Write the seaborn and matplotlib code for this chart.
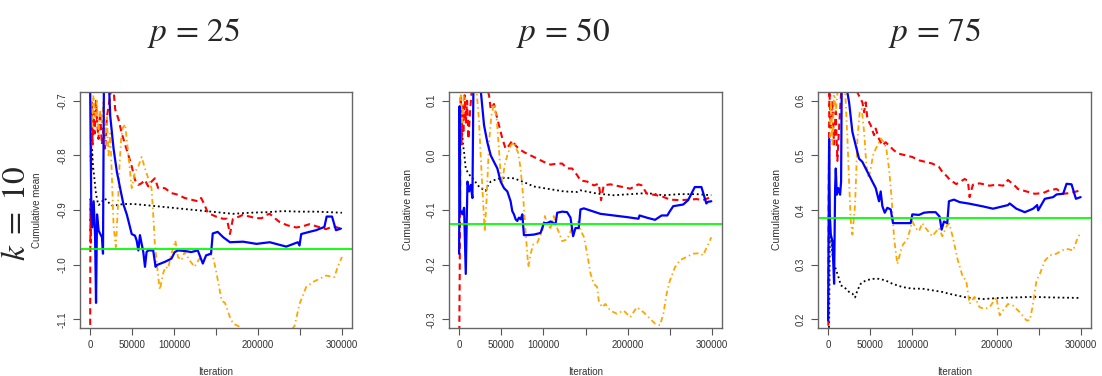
import matplotlib
matplotlib.use("Agg")
import matplotlib.pyplot as plt
import seaborn as sns

# ---------------- data ----------------
panel_titles = [r"$p\,=\,25$", r"$p\,=\,50$", r"$p\,=\,75$"]
row_label = r"$k\;=\;10$"
x_label = "Iteration"
y_label = "Cumulative mean"
x_ticks = [0, 50000, 100000, 150000, 200000, 250000, 300000]
x_tick_labels = ["0", "50000", "100000", "", "200000", "", "300000"]
y_ticks = [[-0.7, -0.8, -0.9, -1.0, -1.1], [0.1, 0.0, -0.1, -0.2, -0.3], [0.6, 0.5, 0.4, 0.3, 0.2]]
y_tick_labels = [["-0.7", "-0.8", "-0.9", "-1.0", "-1.1"],
                 ["0.1", "0.0", "-0.1", "-0.2", "-0.3"],
                 ["0.6", "0.5", "0.4", "0.3", "0.2"]]
y_limits = [(-1.116, -0.684), (-0.316, 0.116), (0.184, 0.616)]
true_values = [-0.971, -0.125, 0.386]

# p = 25
p25_black_x = [500, 1500, 2500, 3500, 5000, 7000, 9000, 10300, 14000, 17000, 20000, 24000, 28000, 32000,
               40000, 52000, 72000, 92000, 111000, 131000, 151000, 170000, 190000, 210000, 230000, 250000,
               270000, 300000]
p25_black_y = [-0.80, -0.83, -0.79, -0.82, -0.84, -0.87, -0.885, -0.891, -0.885, -0.879, -0.882, -0.89,
               -0.893, -0.891, -0.889, -0.889, -0.892, -0.895, -0.898, -0.901, -0.904, -0.907, -0.905,
               -0.904, -0.902, -0.903, -0.903, -0.905]
p25_red_x = [0, 200, 500, 900, 1400, 2000, 3000, 4000, 5500, 7000, 8500, 10000, 12000, 14000, 16000, 18000,
             20000, 22000, 24000, 26000, 28000, 29900, 33900, 37800, 41700, 45700, 49600, 53500, 57500, 61400,
             65400, 69300, 73200, 77200, 81100, 89000, 96900, 104700, 112600, 120500, 128300, 132300, 136200,
             140200, 144100, 150000, 158000, 163000, 166600, 170000, 176000, 182000, 190000, 198000, 204500,
             210000, 214000, 220000, 225800, 235000, 245500, 253000, 261300, 270000, 281000, 290000, 299000]
p25_red_y = [-1.30, -1.03, -0.88, -0.96, -0.74, -0.70, -0.78, -0.72, -0.76, -0.70, -0.74, -0.77, -0.72,
             -0.78, -0.75, -0.79, -0.73, -0.71, -0.69, -0.67, -0.68, -0.716, -0.734, -0.76, -0.78, -0.80,
             -0.82, -0.845, -0.854, -0.851, -0.845, -0.857, -0.848, -0.842, -0.86, -0.86, -0.869, -0.872,
             -0.878, -0.881, -0.884, -0.878, -0.89, -0.905, -0.908, -0.912, -0.916, -0.916, -0.944, -0.917,
             -0.913, -0.909, -0.912, -0.915, -0.915, -0.909, -0.907, -0.915, -0.922, -0.928, -0.932, -0.93,
             -0.926, -0.93, -0.935, -0.93, -0.934]
p25_orange_x = [500, 1500, 2500, 4000, 6000, 8000, 10000, 12000, 14000, 16000, 18000, 20000, 22000, 24000,
                26000, 28000, 30700, 33000, 35000, 37000, 39000, 41700, 45700, 49600, 53500, 57500, 61400,
                65400, 69300, 73200, 75200, 77200, 81100, 83100, 87000, 89800, 92900, 96900, 101600, 104700,
                108700, 112600, 118500, 124400, 130300, 136200, 142100, 146100, 150800, 156700, 160700,
                166600, 170500, 178400, 185000, 200000, 220000, 240000, 243600, 249500, 257400, 265200,
                273200, 281100, 290900, 294800, 300000]
p25_orange_y = [-0.78, -0.70, -0.75, -0.69, -0.73, -0.70, -0.76, -0.72, -0.74, -0.70, -0.78, -0.73, -0.80,
                -0.76, -0.84, -0.93, -0.968, -0.90, -0.82, -0.77, -0.75, -0.743, -0.80, -0.86, -0.83, -0.82,
                -0.803, -0.824, -0.842, -0.86, -0.908, -0.962, -1.022, -1.046, -1.016, -1.004, -1.007, -0.98,
                -0.956, -0.986, -0.992, -0.977, -0.992, -1.004, -0.989, -0.989, -0.98, -0.983, -1.017, -1.066,
                -1.07, -1.096, -1.108, -1.114, -1.14, -1.16, -1.15, -1.12, -1.112, -1.072, -1.041, -1.032,
                -1.026, -1.02, -1.023, -1.005, -0.986]
p25_blue_x = [0, 800, 1500, 2400, 4300, 6000, 7100, 8300, 10200, 12200, 14200, 15400, 16000, 16500, 18000,
              20100, 22500, 24000, 28000, 31900, 35800, 39800, 43700, 45700, 49600, 53500, 55500, 57500, 59400,
              63400, 65400, 67300, 69300, 75200, 78000, 79100, 89000, 96900, 100800, 104700, 112600, 120500,
              128300, 134300, 138200, 144100, 146100, 152000, 158700, 166600, 182300, 198200, 214000, 233700,
              247500, 249500, 251500, 261300, 269200, 279100, 281800, 288200, 292900, 298800]
p25_blue_y = [-0.66, -0.80, -0.90, -0.932, -0.884, -0.95, -1.070, -0.908, -0.938, -0.944, -0.950, -0.98,
              -0.80, -0.66, -0.66, -0.67, -0.67, -0.728, -0.788, -0.830, -0.860, -0.890, -0.908, -0.920,
              -0.944, -0.947, -0.956, -0.974, -0.946, -0.977, -1.004, -0.977, -0.974, -0.974, -1.004, -1.001,
              -0.995, -0.989, -0.977, -0.974, -0.975, -0.977, -0.974, -0.998, -0.983, -0.980, -0.943, -0.94,
              -0.950, -0.959, -0.958, -0.962, -0.959, -0.967, -0.959, -0.965, -0.944, -0.940, -0.937, -0.931,
              -0.912, -0.912, -0.937, -0.934]

# p = 50
p50_black_x = [500, 1000, 2000, 3200, 4700, 5900, 7900, 9900, 13800, 17800, 21700, 25600, 29600, 31600,
               33500, 37500, 45400, 53300, 65100, 76900, 88800, 100600, 112400, 124300, 140000, 144100,
               163800, 183400, 203100, 222700, 242400, 262000, 281700, 299300]
p50_black_y = [0.0, 0.043, 0.03, 0.05, 0.018, 0.006, -0.024, -0.03, -0.039, -0.045, -0.054, -0.06, -0.063,
               -0.065, -0.057, -0.048, -0.043, -0.041, -0.042, -0.049, -0.057, -0.06, -0.063, -0.066,
               -0.067, -0.064, -0.070, -0.073, -0.071, -0.069, -0.073, -0.071, -0.071, -0.073]
p50_red_x = [0, 300, 700, 1000, 1500, 2000, 3000, 4000, 5000, 6500, 8000, 9500, 11000, 13000, 15000, 17000,
             20000, 24000, 28000, 32000, 35500, 37500, 41400, 43400, 47300, 51300, 55200, 59200, 63100, 67100,
             71000, 76900, 84800, 92700, 100600, 108500, 116400, 122300, 128200, 134100, 140000, 144100,
             152000, 159800, 165700, 168500, 171600, 179500, 191300, 203100, 212900, 216800, 222700, 234500,
             242400, 250200, 262000, 273800, 281700, 289500, 299300]
p50_red_y = [-0.40, -0.31, -0.22, -0.12, 0.05, 0.11, 0.02, 0.09, 0.04, 0.11, 0.06, 0.10, 0.03, 0.08, 0.12,
             0.12, 0.13, 0.13, 0.13, 0.13, 0.11, 0.085, 0.094, 0.079, 0.055, 0.031, 0.012, 0.018, 0.027,
             0.018, 0.012, 0.006, 0.0, -0.006, -0.012, -0.017, -0.015, -0.015, -0.024, -0.024, -0.036,
             -0.046, -0.048, -0.055, -0.052, -0.082, -0.055, -0.053, -0.057, -0.061, -0.053, -0.055, -0.070,
             -0.073, -0.076, -0.081, -0.082, -0.081, -0.080, -0.082, -0.076]
p50_orange_x = [800, 2000, 3900, 5900, 9900, 13800, 19700, 21700, 23700, 25600, 27600, 30400, 32700, 35500,
                38300, 41400, 44600, 47300, 49300, 51300, 54000, 57200, 61100, 65100, 67900, 69800, 73000,
                76100, 78900, 82100, 84800, 88000, 92700, 98600, 101800, 104500, 108500, 112400, 116400,
                122300, 128200, 132200, 136100, 142000, 144100, 148000, 152000, 155900, 159800, 163800,
                165700, 169700, 173600, 179500, 187300, 195200, 203100, 210900, 218800, 226600, 232500,
                238400, 242400, 246300, 250200, 256100, 262000, 269900, 277700, 285600, 289500, 293400, 299300]
p50_orange_y = [0.02, 0.11, 0.06, 0.12, 0.13, 0.13, 0.13, 0.10, 0.061, 0.0, -0.06, -0.139, -0.078, 0.024,
                0.073, 0.094, 0.067, 0.012, -0.036, -0.048, -0.018, 0.0, 0.018, 0.024, 0.012, 0.006, -0.024,
                -0.078, -0.139, -0.205, -0.181, -0.163, -0.16, -0.139, -0.111, -0.127, -0.133, -0.111, -0.133,
                -0.157, -0.154, -0.139, -0.127, -0.121, -0.137, -0.149, -0.180, -0.216, -0.235, -0.241,
                -0.266, -0.278, -0.272, -0.284, -0.290, -0.284, -0.296, -0.278, -0.287, -0.299, -0.308,
                -0.311, -0.290, -0.253, -0.229, -0.205, -0.192, -0.186, -0.180, -0.179, -0.183, -0.170, -0.150]
p50_blue_x = [0, 600, 1200, 2000, 3900, 5900, 7900, 9900, 11800, 13800, 15800, 17000, 19000, 25600, 29600,
              33500, 37500, 41400, 45400, 49300, 53300, 57200, 61100, 63100, 65100, 67100, 69000, 71000, 73000,
              75000, 76900, 80900, 88800, 96700, 100600, 104500, 108500, 114400, 116400, 122300, 128200,
              132200, 135300, 138100, 142000, 144000, 148000, 155900, 167700, 183400, 199100, 212900, 214100,
              222700, 232500, 240400, 247100, 249400, 254100, 265900, 271800, 279700, 287600, 293400, 295400,
              299300]
p50_blue_y = [-0.18, 0.09, -0.10, -0.102, -0.108, -0.096, -0.217, -0.048, -0.066, -0.054, -0.078, 0.13,
              0.13, 0.12, 0.055, 0.024, 0.0, -0.012, -0.024, -0.048, -0.06, -0.066, -0.084, -0.102, -0.108,
              -0.117, -0.12, -0.114, -0.117, -0.108, -0.146, -0.146, -0.145, -0.142, -0.124, -0.124, -0.121,
              -0.126, -0.105, -0.103, -0.104, -0.114, -0.148, -0.133, -0.133, -0.099, -0.097, -0.101, -0.107,
              -0.110, -0.113, -0.116, -0.110, -0.114, -0.118, -0.110, -0.110, -0.104, -0.093, -0.090, -0.082,
              -0.058, -0.058, -0.088, -0.085, -0.084]

# p = 75
p75_black_x = [0, 1200, 2000, 3200, 5100, 7100, 9100, 13000, 15000, 19000, 24900, 28800, 32000, 34800, 38700,
               44600, 52500, 60400, 68300, 76200, 88100, 99900, 111800, 123600, 135500, 144000, 163800, 183700,
               203500, 223400, 243300, 263100, 299700]
p75_black_y = [0.15, 0.192, 0.349, 0.355, 0.319, 0.301, 0.292, 0.274, 0.262, 0.259, 0.250, 0.247, 0.240,
               0.253, 0.265, 0.271, 0.274, 0.274, 0.271, 0.265, 0.259, 0.256, 0.256, 0.253, 0.250, 0.2465,
               0.240, 0.237, 0.239, 0.240, 0.241, 0.240, 0.239]
p75_red_x = [0, 300, 800, 1500, 3000, 5000, 7000, 9000, 11000, 13000, 16000, 20000, 26000, 30000, 33000,
             34800, 36700, 40700, 42700, 44600, 46600, 50600, 54500, 56500, 60400, 64400, 68300, 72300, 78200,
             84100, 92000, 99900, 107800, 115700, 123600, 131500, 135500, 141400, 144000, 152000, 156000,
             161900, 165900, 167900, 171800, 179800, 191700, 199600, 207600, 213500, 221500, 225400, 235400,
             245300, 255200, 263100, 271100, 279000, 286900, 294900, 299700]
p75_red_y = [0.15, 0.19, 0.45, 0.62, 0.55, 0.60, 0.52, 0.58, 0.49, 0.55, 0.63, 0.64, 0.64, 0.64, 0.63, 0.615,
             0.609, 0.597, 0.579, 0.597, 0.567, 0.555, 0.537, 0.549, 0.530, 0.518, 0.524, 0.518, 0.509,
             0.503, 0.500, 0.497, 0.491, 0.488, 0.485, 0.479, 0.470, 0.461, 0.456, 0.4475, 0.4506, 0.4567,
             0.4536, 0.4236, 0.4463, 0.4488, 0.4445, 0.4463, 0.4445, 0.455, 0.4445, 0.4384, 0.434, 0.4297,
             0.431, 0.4365, 0.4384, 0.4297, 0.431, 0.434, 0.4365]
p75_orange_x = [1200, 3200, 5100, 7100, 9100, 12000, 15000, 19000, 20900, 22900, 24900, 26900, 28800, 32000,
                34800, 37500, 39900, 42700, 45400, 47800, 50600, 53300, 56500, 59600, 62400, 66400, 69100,
                72300, 75400, 78200, 82200, 86100, 88900, 94000, 99900, 103900, 107800, 111800, 115700,
                123600, 131500, 135500, 141400, 144000, 148000, 154000, 159900, 163900, 167900, 173800,
                179800, 185700, 191700, 199600, 203600, 207600, 213500, 219500, 227400, 235400, 239300,
                242500, 247300, 251300, 257200, 263100, 271100, 277000, 283000, 290900, 294900, 299700]
p75_orange_y = [0.45, 0.60, 0.52, 0.62, 0.58, 0.63, 0.64, 0.64, 0.597, 0.531, 0.452, 0.379, 0.355, 0.41,
                0.531, 0.579, 0.585, 0.543, 0.482, 0.458, 0.476, 0.5, 0.512, 0.521, 0.531, 0.524, 0.512, 0.476,
                0.422, 0.349, 0.301, 0.325, 0.337, 0.346, 0.379, 0.367, 0.361, 0.376, 0.367, 0.352, 0.367,
                0.352, 0.373, 0.3747, 0.350, 0.3077, 0.277, 0.271, 0.2282, 0.241, 0.222, 0.219, 0.222, 0.2405,
                0.207, 0.216, 0.228, 0.225, 0.213, 0.198, 0.198, 0.222, 0.271, 0.283, 0.307, 0.317, 0.320,
                0.326, 0.329, 0.326, 0.344, 0.359]
p75_blue_x = [0, 1200, 2000, 3200, 5100, 7100, 8300, 9100, 10300, 12200, 14200, 15400, 16200, 18000, 20900,
              22900, 24900, 28800, 32800, 36700, 40700, 44600, 48600, 52500, 56500, 60400, 62400, 64400, 67200,
              70300, 74300, 77000, 88100, 98000, 99900, 107800, 113800, 119700, 127600, 132300, 134700, 137500,
              141400, 143400, 149300, 156000, 167900, 183700, 195700, 213500, 215500, 223400, 233400, 243300,
              248100, 249300, 257200, 267100, 271100, 279000, 283000, 288900, 294100, 299700]
p75_blue_y = [0.198, 0.53, 0.392, 0.355, 0.343, 0.265, 0.44, 0.476, 0.428, 0.44, 0.428, 0.452, 0.64, 0.64,
              0.64, 0.615, 0.597, 0.543, 0.518, 0.494, 0.488, 0.476, 0.464, 0.452, 0.44, 0.416, 0.434, 0.407,
              0.395, 0.404, 0.401, 0.376, 0.376, 0.376, 0.392, 0.391, 0.395, 0.396, 0.396, 0.388, 0.364, 0.379,
              0.376, 0.416, 0.419, 0.4145, 0.4115, 0.4066, 0.4024, 0.409, 0.412, 0.4024, 0.396, 0.4024, 0.409,
              0.3993, 0.4205, 0.4236, 0.4285, 0.4297, 0.448, 0.447, 0.4205, 0.4236]

panels = [
    dict(black=(p25_black_x, p25_black_y), red=(p25_red_x, p25_red_y),
         orange=(p25_orange_x, p25_orange_y), blue=(p25_blue_x, p25_blue_y)),
    dict(black=(p50_black_x, p50_black_y), red=(p50_red_x, p50_red_y),
         orange=(p50_orange_x, p50_orange_y), blue=(p50_blue_x, p50_blue_y)),
    dict(black=(p75_black_x, p75_black_y), red=(p75_red_x, p75_red_y),
         orange=(p75_orange_x, p75_orange_y), blue=(p75_blue_x, p75_blue_y)),
]

# ---------------- style ----------------
sns.set_theme(style="white")
plt.rcParams["font.family"] = ["Liberation Sans", "DejaVu Sans"]
plt.rcParams["mathtext.fontset"] = "stix"

styles = {
    "black": dict(color="black", linestyle=(0, (1.0, 1.6)), linewidth=1.3),
    "red": dict(color="#ff0000", linestyle=(0, (3.0, 2.0)), linewidth=1.5),
    "orange": dict(color="#ffa500", linestyle=(0, (0.8, 1.8, 3.0, 1.8)), linewidth=1.3),
    "blue": dict(color="#0000ff", linestyle="-", linewidth=1.6),
}

W, H = 1102, 376
fig = plt.figure(figsize=(W / 100, H / 100), dpi=100)
fig.patch.set_facecolor("white")

boxes = [(80, 352), (449, 722), (818, 1091)]
top_px, bot_px = 92, 328
title_x = [194, 563, 935]

for i, (l, r) in enumerate(boxes):
    ax = fig.add_axes([l / W, 1 - bot_px / H, (r - l) / W, (bot_px - top_px) / H])
    for key in ["black", "red", "orange", "blue"]:
        xs, ys = panels[i][key]
        sns.lineplot(x=xs, y=ys, ax=ax, estimator=None, sort=False, legend=False, **styles[key])
    ax.axhline(true_values[i], color="#00ff00", linewidth=1.3)
    ax.set_xlim(-12000, 312000)
    ax.set_ylim(*y_limits[i])
    ax.set_xticks(x_ticks)
    ax.set_xticklabels(x_tick_labels, fontsize=7, color="#333333")
    ax.set_yticks(y_ticks[i])
    ax.set_yticklabels(y_tick_labels[i], fontsize=7, color="#333333", rotation=90, va="center")
    ax.tick_params(axis="both", direction="out", length=5, width=0.8, color="#555555", pad=4,
                   bottom=True, left=True)
    for sp in ax.spines.values():
        sp.set_color("#666666")
        sp.set_linewidth(1.0)
    ax.set_xlabel(x_label, fontsize=7, color="#333333", va="center")
    ax.xaxis.set_label_coords(0.5, -44 / (bot_px - top_px))
    ax.set_ylabel(y_label, fontsize=7.5 if i else 7, color="#333333", va="center")
    ax.yaxis.set_label_coords(-41 / (r - l) if i else -43 / (r - l), 0.5)
    fig.text(title_x[i] / W, 1 - 33 / H, panel_titles[i], fontsize=24, ha="center", va="center")

fig.text(32 / W, 1 - 213 / H, row_label, fontsize=24, rotation=90, ha="right", va="center")

fig.savefig("out.png", dpi=100, facecolor="white")
